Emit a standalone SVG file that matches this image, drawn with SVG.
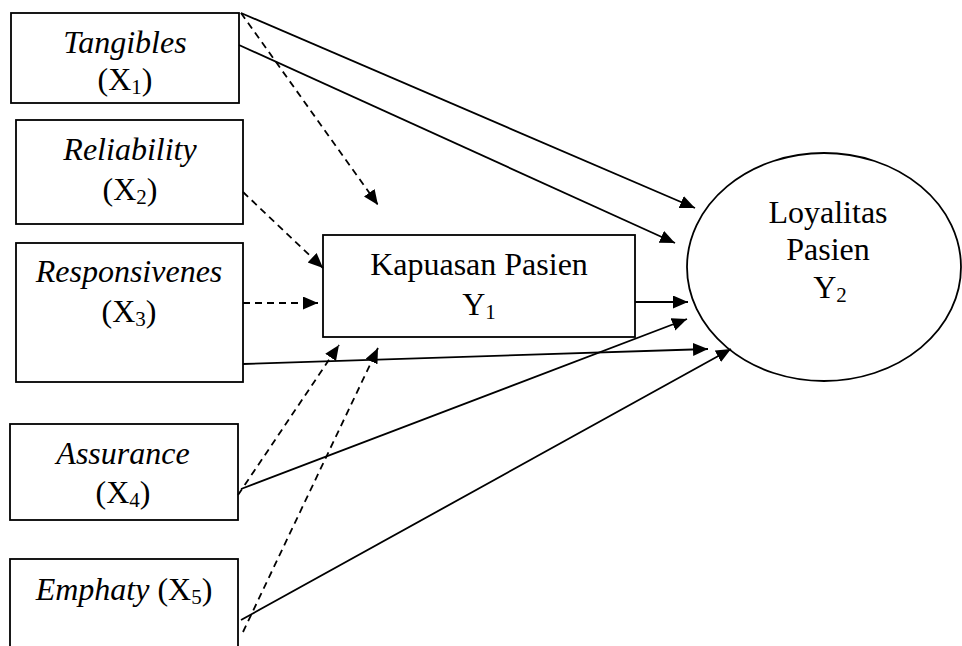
<svg xmlns="http://www.w3.org/2000/svg" width="962" height="646" viewBox="0 0 962 646">
<style>
.box{fill:#fff;stroke:#000;stroke-width:1.8}
.t{font-family:"Liberation Serif",Tinos,"Times New Roman","DejaVu Serif",serif;font-size:32px;fill:#000;text-anchor:middle}
.i{font-style:italic}
.sub{font-size:21px}
.ln{stroke:#000;stroke-width:1.8;fill:none;marker-end:url(#ah)}
.d{stroke-dasharray:7,5}
</style>
<defs>
<marker id="ah" markerUnits="userSpaceOnUse" markerWidth="16" markerHeight="14" refX="15" refY="6.5" orient="auto">
<path d="M0,0 L15,6.5 L0,13 z" fill="#000"/>
</marker>
</defs>
<rect width="962" height="646" fill="#fff"/>
<g id="x1">
<rect class="box" x="11" y="13" width="228" height="90"/>
<text class="t i" x="125" y="53">Tangibles</text>
<text class="t" x="125" y="90">(X<tspan class="sub" dy="4">1</tspan><tspan dy="-4">)</tspan></text>
</g>
<g id="x2">
<rect class="box" x="16" y="120" width="227" height="104"/>
<text class="t i" x="130" y="160">Reliability</text>
<text class="t" x="130" y="200">(X<tspan class="sub" dy="4">2</tspan><tspan dy="-4">)</tspan></text>
</g>
<g id="x3">
<rect class="box" x="16" y="243" width="227" height="139"/>
<text class="t i" x="129" y="282">Responsivenes</text>
<text class="t" x="129" y="322">(X<tspan class="sub" dy="4">3</tspan><tspan dy="-4">)</tspan></text>
</g>
<g id="x4">
<rect class="box" x="10" y="424" width="228" height="96"/>
<text class="t i" x="123" y="464">Assurance</text>
<text class="t" x="123" y="503">(X<tspan class="sub" dy="4">4</tspan><tspan dy="-4">)</tspan></text>
</g>
<g id="x5">
<rect class="box" x="10" y="559" width="228" height="100"/>
<text class="t" x="124" y="600"><tspan font-style="italic">Emphaty</tspan> (X<tspan class="sub" dy="4">5</tspan><tspan dy="-4">)</tspan></text>
</g>
<g id="y1">
<rect class="box" x="323" y="235" width="312" height="102"/>
<text class="t" x="479" y="275">Kapuasan Pasien</text>
<text class="t" x="479" y="315">Y<tspan class="sub" dy="4">1</tspan></text>
</g>
<g id="y2">
<ellipse class="box" cx="824" cy="267" rx="137" ry="114"/>
<text class="t" x="828" y="223">Loyalitas</text>
<text class="t" x="828" y="260">Pasien</text>
<text class="t" x="830" y="298">Y<tspan class="sub" dy="4">2</tspan></text>
</g>
<g id="connectors">
<line class="ln" x1="241" y1="13" x2="695" y2="208"/>
<line class="ln" x1="239" y1="45" x2="675" y2="243"/>
<line class="ln" x1="635" y1="302" x2="688" y2="302"/>
<line class="ln" x1="241" y1="489" x2="687" y2="319"/>
<line class="ln" x1="243" y1="364" x2="708" y2="349"/>
<line class="ln" x1="241" y1="620" x2="731" y2="349"/>
<line class="ln d" x1="241" y1="13" x2="378" y2="205"/>
<line class="ln d" x1="243" y1="192" x2="323" y2="268"/>
<line class="ln d" x1="243" y1="303" x2="318" y2="303"/>
<line class="ln d" x1="238" y1="495" x2="339" y2="345"/>
<line class="ln d" x1="243" y1="632" x2="378" y2="348"/>
</g>
</svg>
